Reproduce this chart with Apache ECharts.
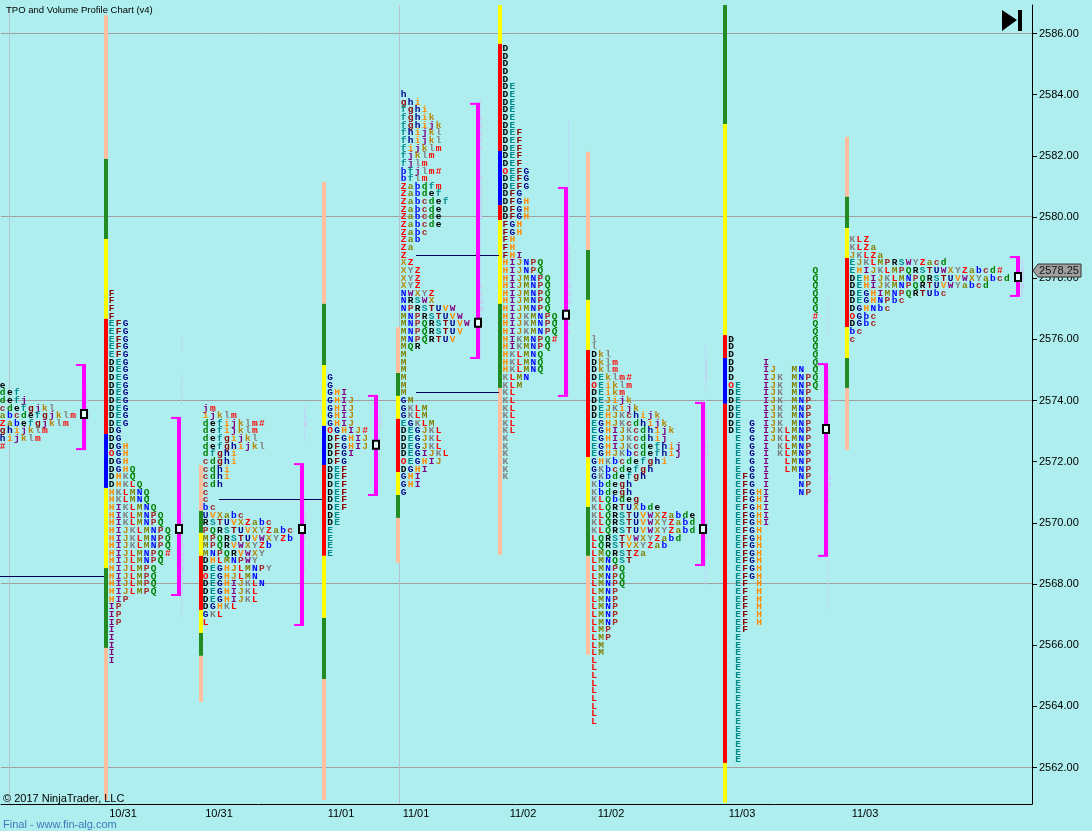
<!DOCTYPE html>
<html><head><meta charset="utf-8">
<style>html,body{margin:0;padding:0;background:#AFEEEE}#c{width:1092px;height:831px}</style>
<script src="https://cdn.jsdelivr.net/npm/echarts@6/dist/echarts.min.js"></script>
</head><body><div id="c"></div>
<script>
const priceTicks=[2562,2564,2566,2568,2570,2572,2574,2576,2578,2580,2582,2584,2586];
const gridPrices=[2562,2568,2574,2580,2586];
const sessionLines=[9,399];
const dayTickPositions=[123,219,341,416,523,611,742,865];
const dayTickLabels=['10/31','10/31','11/01','11/01','11/02','11/02','11/03','11/03'];
const lastPrice=2578.25;

const profile1={x:2.7,top:2574.5,rows:["e","def","defj","cdefgjkl","abcdefgjklm","Zabefgjklm","ghijklm","hijklm","#"]};
const profile2={x:111.5,top:2577.5,rows:["F","F","F","F","EFG","EFG","EFG","EFG","EFG","DEG","DEG","DEG","DEG","DEG","DEG","DEG","DEG","DEG","DG","DG","DGH","OGH","DGH","DGHQ","DHKQ","DHKLQ","HKLMNQ","HKLMNQ","HIKLMNQ","HIKLMNPQ","HIKLMNPQ","HIJKLMNPQ","HIJKLMNPQ","HIJKLMNPQ","HIJLMNPQ#","HIJLMNPQ","HIJLMPQ","HIJLMPQ","HIJLMPQ","HIJLMPQ","HIP","IP","IP","IP","I","I","I","I","I"]};
const profile3={x:205.7,top:2573.75,rows:["jm","ijklm","defijklm#","defijklm","defgijkl","defghijkl","dfghi","cdghi","cdhi","cdhi","cdh","c","c","bc","UVXabc","RSTUVXZabc","PQRSTUVXYZabc","MPQRSTUVWXYZb","MPQRVWXYZb","MNPQRVWXY","DHLMNPWY","DEGHJLMNPY","OEGHJLMN","DEGHIJKLN","DEGHIJKL","DEGHIJKL","DGHKL","GKL","L"]};
const profile4={x:330,top:2574.75,rows:["G","G","GHI","GHIJ","GHIJ","GHIJ","GHIJ","OGHIJ#","DFGHIJ","DFGHIJ","DFGI","DFG","DEF","DEF","DEF","DEF","DEF","DEF","DE","DE","E","E","E","E"]};
const profile5={x:403.5,top:2584,rows:["h","ghi","fghi","fghik","fghijk","fhijkl","fhijkl","fijklm","fjklm","fjlm","bfjlm#","bflm","Zabdfm","Zabdef","Zabcdef","Zabcde","Zabcde","Zabcde","Zabc","Zab","Za","Z","XZ","XYZ","XYZ","XYZ","NWXYZ","NRSWX","NPRSTUVW","MNPRSTUVW","MNPQRSTUVW","MNPQRSTUV","MNPQRTUV","MQR","M","M","M","M","M","M","GM","GKLM","GKLM","EGKLM","DEGJKL","DEGJKL","DEGJKL","DEGIJKL","OEGHIJ","DGHI","GHI","GHI","G"]};
const profile6={x:505.3,top:2585.5,rows:["D","D","D","D","D","DE","DE","DE","DE","DE","DE","DEF","DEF","DEF","DEF","DEF","OEFG","DEFG","DEFG","DFG","DFGH","DFGH","DFGH","FGH","FGH","FH","FH","FHI","HIJNPQ","HIJNPQ","HIJMNPQ","HIJMNPQ","HIJMNPQ","HIJMNPQ","HIJMNPQ","HIJKMNPQ","HIJKMNPQ","HIJKMNPQ","HIKMNPQ#","HIKMNPQ","HKLMNQ","HKLMNQ","HKLMNQ","KLMN","KLM","KL","KL","KL","KL","KL","KL","K","K","K","K","K","K"]};
const profile7={x:594,top:2576,rows:["l","l","Dkl","Dklm","Dklm","DEklm#","OEiklm","DEikm","DEJijk","DEJKijk","DEHJKchijk","EGHJKcdhijk","EGHIJKcdhijk","EGHIJKcdhij","EGHIJKcdefhij","EGHJKbcdefhij","GHKbcdefghi","GKbcdefgh","GKbdefgh","Kbdegh","Kbdegh","KLQbdeg","KLQRTUXbde","KLQRSTUVWXZabde","KLQRSTUVWXYZabd","KLQRSTUVWXYZabd","LQRSTVWXYZabd","LQRSTVXYZab","LMQRSTZa","LMNQST","LMNPQ","LMNPQ","LMNPQ","LMNP","LMNP","LMNP","LMNP","LMNP","LMP","LMP","LM","LM","L","L","L","L","L","L","L","L","L"]};
const profile8={x:731,top:2578.25,rows:[
"            Q","            Q","            Q","            Q","            Q","            Q","            #","            Q","            Q",
"D           Q","D           Q","D           Q","D    I      Q","D    IJ  MN Q","D    IJK MNPQ","OE   IJK MNPQ",
"DE   IJK MNP","DE   IJK MNP","DE   IJK MNP","DE   IJK MNP","DE G IJK MNP","DE G IJKLMNP"," E G IJKLMNP"," E G I KLMNP"," E G I KLMNP"," E G I  LMNP"," E G I  LMNP",
" EFG I    NP"," EFG I    NP"," EFGHI    NP"," EFGHI"," EFGHI"," EFGHI"," EFGHI"," EFGH"," EFGH"," EFGH"," EFGH"," EFGH"," EFGH"," EFGH",
" EF H"," EF H"," EF H"," EF H"," EF H"," EF H"," EF",
" E"," E"," E"," E"," E"," E"," E"," E"," E"," E"," E"," E"," E"," E"," E"," E"," E"]};
const profile9={x:852.3,top:2579.25,rows:["KLZ","KLZa","JKLZa","EJKLMPRSWYZacd","EHIJKLMPQRSTUWXYZabcd#","DEHIJKLMNPQRSTUVWXYabcd","DEHIJKMNPQRTUVWYabcd","DEGHIMNPQRTUbc","DEGHNPbc","DGHNbc","OGbc","DGbc","bc","c"]};
const profiles=[profile1,profile2,profile3,profile4,profile5,profile6,profile7,profile8,profile9];

const barA={x:106,cuts:[2586.6,2581.9,2579.28,2576.67,2572.9,2571.14,2568.52,2565.91,2560.94],cols:"PGYRBYGP"};
const barB={x:201,cuts:[2571.89,2570.39,2569.67,2568.92,2567.15,2566.40,2565.65,2564.14],cols:"PGYRYGP"};
const barC={x:323.7,cuts:[2581.15,2577.16,2575.16,2573.17,2571.89,2568.92,2566.89,2564.89,2560.94],cols:"PGYBRYGP"};
const barD={x:398,cuts:[2576.40,2574.90,2574.15,2573.40,2571.66,2570.91,2570.16,2568.69],cols:"PGYRYGP"};
const barE={x:500,cuts:[2586.93,2585.66,2582.16,2580.39,2579.90,2577.16,2574.41,2568.95],cols:"YRBRYGP"};
const barF={x:588,cuts:[2582.13,2578.92,2577.29,2575.65,2572.15,2570.52,2568.92,2565.68],cols:"PGYRYGP"};
const barG={x:725,cuts:[2586.93,2583.04,2576.14,2575.39,2573.89,2562.15,2560.85],cols:"GYRBRY"};
const barH={x:847,cuts:[2582.62,2580.66,2579.64,2578.66,2576.40,2575.39,2574.41,2572.38],cols:"PGYRYGP"};
const valueBars=[barA,barB,barC,barD,barE,barF,barG,barH];
const barColors={P:'#FFBF9F',G:'#228B22',Y:'#FFFF00',R:'#FF0000',B:'#0000FF'};

const ranges=[
 {x:84,high:2575.16,low:2572.41,poc:2573.56},
 {x:179,high:2573.43,low:2567.64,poc:2569.80},
 {x:302,high:2571.92,low:2566.66,poc:2569.80},
 {x:376,high:2574.15,low:2570.91,poc:2572.55},
 {x:478,high:2583.70,low:2575.39,poc:2576.54},
 {x:566,high:2580.95,low:2574.15,poc:2576.80},
 {x:703,high:2573.92,low:2568.62,poc:2569.80},
 {x:826,high:2575.19,low:2568.92,poc:2573.07},
 {x:1018,high:2578.69,low:2577.42,poc:2578.04}];

const nakedPocs=[
 {x1:0,x2:104,p:2568.25},{x1:219,x2:322,p:2570.75},
 {x1:416,x2:499,p:2578.75},{x1:416,x2:499,p:2574.25}];

const volume1={x:86,top:2574.5,w:[1,1,2,2,3,2,1,1,1]};
const volume2={x:181,top:2576,w:[1,1,0,0,0,1,1,1,1,0,0,0,0,0,0,0,0,0,1,1,1,1,1,2,2,2,2,3,3,3,3,2,2,2,1,1,1]};
const volume3={x:304,top:2573.75,w:[1,2,3,1,1,0,0,0,0,0,0,0,1,1,2,2,2,2,1,1,1,1]};
const volume4={x:379,top:2573.75,w:[1,2,3,1,1,1,1,1,1,1,1]};
const volume5={x:480,top:2583.75,w:[1,1,2,2,2,2,2,1,1,1,2,2,2,2,2,2,1,1,1,1,1,1,1,1,2,2,3,3,2,2,1,1,1,1]};
const volume6={x:568,top:2583,w:[1,1,1,1,1,1,1,1,1,1,1,1,1,1,1,1,2,2,2,2,2,3,3,3,2,2,2,2,1,1,1,1,1,1,1,1]};
const volume7={x:705,top:2575.75,w:[1,1,2,2,2,1,0,1,1,2,2,2,2,3,3,2,2,2,1,1,1,2,2,3,3,3,2,2,1,1,1,1]};
const volume8={x:828,top:2577.25,w:[1,1,1,1,1,0,0,0,0,1,2,2,2,3,3,2,2,2,2,2,2,2,2,3,3,2,2,1,1,1,1,1,1,1,1,1,1,1,1,1,1]};
const volume9={x:1021,top:2578.5,w:[2,3,3,3,2,1,0]};
const volumes=[volume1,volume2,volume3,volume4,volume5,volume6,volume7,volume8,volume9];

const letterCycle="DEFGHIJKLMNPQRSTUVWXYZabcdefghijklm";
const cycleColors=['#000000','#008B8B','#8B0000','#00008B','#FF8C00','#800080','#B8860B','#808080','#FF0000','#808000','#0000FF','#A52A2A','#008000'];
function colorOf(ch){
  if(ch==='#'||ch==='O')return '#FF0000';
  const i=letterCycle.indexOf(ch);
  return i<0?'#000':cycleColors[i%13];
}
const step=0.25,letterStep=7.03;
const letterData=[];
profiles.forEach(pr=>pr.rows.forEach((row,r)=>{[...row].forEach((ch,c)=>{
  if(ch!==' ')letterData.push([pr.x+c*letterStep,pr.top-r*step,ch]);
});}));
const barData=[];
valueBars.forEach(b=>{[...b.cols].forEach((k,i)=>barData.push([b.x,b.cuts[i],b.cuts[i+1],barColors[k]]));});
const volData=[];
volumes.forEach(v=>v.w.forEach((w,r)=>{if(w)volData.push([v.x,v.top-r*step,w]);}));

const chart=echarts.init(document.getElementById('c'),null,{renderer:'canvas'});
const hline=(a,p,x1,x2,color)=>{const s=a.coord([x1,p]),e=a.coord([x2,p]);const y=Math.floor(s[1])+.5;
  return {type:'line',shape:{x1:s[0],y1:y,x2:e[0],y2:y},style:{stroke:color,lineWidth:1}};};
const FONT='bold 9.5px "Liberation Mono"';
chart.setOption({
 animation:false,backgroundColor:'#AFEEEE',
 title:{text:'TPO and Volume Profile Chart (v4)',left:1,top:0,textStyle:{fontFamily:'Liberation Sans',fontSize:9.5,fontWeight:'normal',color:'#000'}},
 grid:{left:1,right:60,top:5,bottom:27},
 xAxis:{type:'value',min:1,max:1032,splitLine:{show:false},axisTick:{show:false},
   axisLine:{onZero:false,lineStyle:{color:'#000',width:1}},
   axisLabel:{customValues:dayTickPositions,formatter:v=>dayTickLabels[dayTickPositions.indexOf(v)],color:'#000',fontFamily:'Liberation Sans',fontSize:11,margin:4}},
 yAxis:{type:'value',position:'right',min:2560.806,max:2586.932,splitLine:{show:false},
   axisLine:{show:true,lineStyle:{color:'#000',width:1}},
   axisTick:{show:true,length:5,lineStyle:{color:'#000'},customValues:priceTicks},
   axisLabel:{customValues:priceTicks,formatter:v=>v.toFixed(2),color:'#000',fontFamily:'Liberation Sans',fontSize:11,margin:7}},
 series:[
  {type:'custom',silent:true,z:1,data:gridPrices,encode:{y:0},renderItem:(p,a)=>hline(a,a.value(0),1,1032,'#A0A0A0')},
  {type:'custom',silent:true,z:1,data:sessionLines,encode:{x:0},renderItem:(p,a)=>{const s=a.coord([a.value(0),2586.932]),e=a.coord([a.value(0),2560.806]);const x=Math.round(s[0])+.5;
    return {type:'line',shape:{x1:x,y1:s[1],x2:x,y2:e[1]},style:{stroke:'#B4C4C8',lineWidth:1}};}},
  {type:'custom',silent:true,z:2,data:volData,encode:{x:0,y:1},renderItem:(p,a)=>{const c=a.coord([a.value(0),a.value(1)]);
    return {type:'rect',shape:{x:c[0],y:c[1]-3,width:a.value(2),height:6},style:{fill:'#BFD3F4'}};}},
  {type:'custom',silent:true,z:3,data:barData,encode:{x:0,y:[1,2]},renderItem:(p,a)=>{const t=a.coord([a.value(0),a.value(1)]),b=a.coord([a.value(0),a.value(2)]);
    return {type:'rect',shape:{x:Math.round(t[0])-2,y:t[1],width:4,height:b[1]-t[1]},style:{fill:a.value(3)}};},dimensions:['x','hi','lo',{name:'c',type:'ordinal'}]},
  {type:'custom',silent:true,z:4,data:nakedPocs.map(n=>[n.x1,n.x2,n.p]),encode:{x:[0,1],y:2},renderItem:(p,a)=>hline(a,a.value(2),a.value(0),a.value(1),'#00005A')},
  {type:'custom',silent:true,z:5,data:ranges.map(r=>[r.x,r.high,r.low,r.poc]),encode:{x:0,y:[1,2,3]},renderItem:(p,a)=>{
    const t=a.coord([a.value(0),a.value(1)]),b=a.coord([a.value(0),a.value(2)]),m=a.coord([a.value(0),a.value(3)]);
    const x=Math.round(t[0]);
    return {type:'group',children:[
      {type:'rect',shape:{x:x-2,y:t[1]-1,width:4,height:b[1]-t[1]+2},style:{fill:'#FF00FF'}},
      {type:'rect',shape:{x:x-8,y:t[1]-1,width:6,height:2},style:{fill:'#FF00FF'}},
      {type:'rect',shape:{x:x-8,y:b[1]-1,width:6,height:2},style:{fill:'#FF00FF'}},
      {type:'rect',shape:{x:x-3,y:m[1]-4,width:6,height:8},style:{fill:'#E8FFFF',stroke:'#000',lineWidth:2}}
    ]};}},
  {type:'custom',silent:true,z:6,data:letterData,dimensions:['x','y',{name:'t',type:'ordinal'}],encode:{x:0,y:1},renderItem:(p,a)=>{
    const c=a.coord([a.value(0),a.value(1)]),ch=a.value(2);
    return {type:'text',style:{text:ch,x:c[0],y:c[1],align:'center',verticalAlign:'middle',font:FONT,fill:colorOf(ch)}};}},
  {type:'custom',silent:true,z:7,data:[[1032,lastPrice]],encode:{x:0,y:1},renderItem:(p,a)=>{
    const c=a.coord([a.value(0),a.value(1)]);const y=c[1];
    return {type:'group',children:[
      {type:'polygon',shape:{points:[[c[0]+1,y],[c[0]+6,y-6.5],[c[0]+49,y-6.5],[c[0]+49,y+6.5],[c[0]+6,y+6.5]]},style:{fill:'#A0A0A0',stroke:'#333',lineWidth:1}},
      {type:'text',style:{text:a.value(1).toFixed(2),x:c[0]+27,y:y,align:'center',verticalAlign:'middle',font:'11px "Liberation Sans"',fill:'#111'}}
    ]};}}
 ],
 graphic:[
  {type:'text',left:3,top:793,z:20,style:{text:'© 2017 NinjaTrader, LLC',font:'11px "Liberation Sans"',fill:'#000'}},
  {type:'text',left:3,top:819,z:20,style:{text:'Final - www.fin-alg.com',font:'11px "Liberation Sans"',fill:'#3A7AB8'}},
  {type:'polygon',z:20,shape:{points:[[1002,10],[1017,20],[1002,31]]},style:{fill:'#000'}},
  {type:'rect',z:20,shape:{x:1018,y:10,width:4,height:21},style:{fill:'#000'}}
 ]
});
</script></body></html>
